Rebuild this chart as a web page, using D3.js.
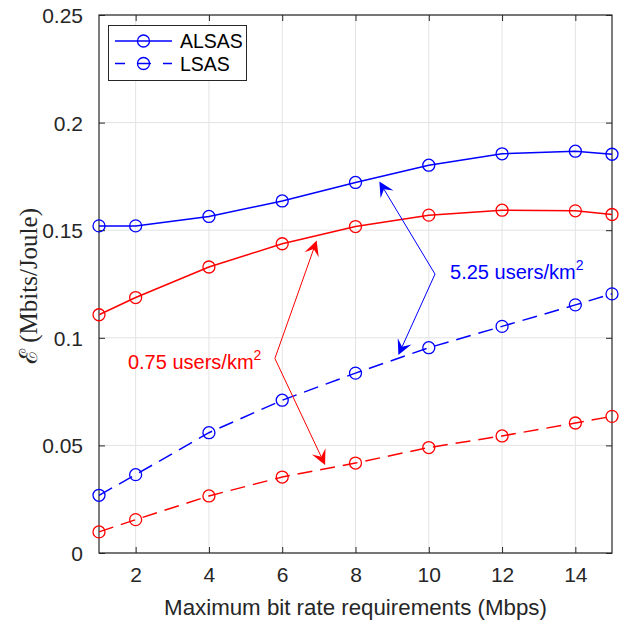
<!DOCTYPE html>
<html>
<head>
<meta charset="utf-8">
<script src="https://cdn.jsdelivr.net/npm/d3@7"></script>
<style>
  html, body { margin: 0; padding: 0; background: #fff; }
  svg { display: block; }
  text { font-family: "Liberation Sans", Arial, Helvetica, sans-serif; fill: #262626; }
</style>
</head>
<body>
<svg id="chart" width="621" height="620"></svg>
<script>
// ── Data ─────────────────────────────────────────────
const bitRates   = [1, 2, 4, 6, 8, 10, 12, 14, 15];
const alsasHigh  = [0.152, 0.152, 0.1564, 0.1636, 0.1722, 0.1802, 0.1855, 0.1867, 0.1853];
const alsasLow   = [0.1107, 0.1187, 0.1329, 0.1437, 0.1517, 0.1570, 0.1593, 0.1590, 0.1573];
const lsasHigh   = [0.0268, 0.0364, 0.0559, 0.0710, 0.0836, 0.0954, 0.1053, 0.1153, 0.1204];
const lsasLow    = [0.0098, 0.0155, 0.0265, 0.0353, 0.0418, 0.0490, 0.0544, 0.0604, 0.0635];
const xTicks     = [2, 4, 6, 8, 10, 12, 14];
const yTicks     = [0, 0.05, 0.1, 0.15, 0.2, 0.25];
const legendNames = ['ALSAS', 'LSAS'];

const series = [
  { values: alsasHigh, color: '#0000ff', dashed: false },
  { values: alsasLow,  color: '#ff0000', dashed: false },
  { values: lsasHigh,  color: '#0000ff', dashed: true  },
  { values: lsasLow,   color: '#ff0000', dashed: true  },
];

// ── Layout ───────────────────────────────────────────
const svg = d3.select('#chart');
const m = { left: 99, right: 612, top: 15, bottom: 553 };
const axisColor = '#262626';
const gridColor = '#e3e3e3';
const dash = '15,8';

const x = d3.scaleLinear().domain([1, 15]).range([m.left, m.right]);
const y = d3.scaleLinear().domain([0, 0.25]).range([m.bottom, m.top]);

// Grid
const grid = svg.append('g').attr('class', 'grid');
grid.selectAll('line.gx').data(xTicks).join('line')
  .attr('x1', d => x(d)).attr('x2', d => x(d))
  .attr('y1', m.top).attr('y2', m.bottom)
  .attr('stroke', gridColor).attr('stroke-width', 1);
grid.selectAll('line.gy').data(yTicks).join('line')
  .attr('x1', m.left).attr('x2', m.right)
  .attr('y1', d => y(d)).attr('y2', d => y(d))
  .attr('stroke', gridColor).attr('stroke-width', 1);

// Axes (inside ticks, box on)
const tick = 6;
const xb = svg.append('g').attr('transform', `translate(0,${m.bottom})`)
  .call(d3.axisBottom(x).tickValues(xTicks).tickSizeInner(-tick).tickSizeOuter(0).tickPadding(14));
const xt = svg.append('g').attr('transform', `translate(0,${m.top})`)
  .call(d3.axisTop(x).tickValues(xTicks).tickSizeInner(-tick).tickSizeOuter(0).tickFormat(''));
const yl = svg.append('g').attr('transform', `translate(${m.left},0)`)
  .call(d3.axisLeft(y).tickValues(yTicks).tickSizeInner(-tick).tickSizeOuter(0).tickPadding(16)
    .tickFormat(d => d === 0 ? '0' : String(+d.toFixed(2))));
const yr = svg.append('g').attr('transform', `translate(${m.right},0)`)
  .call(d3.axisRight(y).tickValues(yTicks).tickSizeInner(-tick).tickSizeOuter(0).tickFormat(''));

[xb, xt, yl, yr].forEach(g => {
  g.select('.domain').remove();
  g.selectAll('line').attr('stroke', axisColor).attr('stroke-width', 1);
  g.selectAll('text').attr('fill', axisColor).attr('font-size', 21)
    .attr('font-family', '"Liberation Sans", Arial, sans-serif');
});
xb.selectAll('text').attr('dy', '0.71em');
yl.selectAll('text').attr('dy', '0.36em');

svg.append('rect')
  .attr('x', m.left).attr('y', m.top)
  .attr('width', m.right - m.left).attr('height', m.bottom - m.top)
  .attr('fill', 'none').attr('stroke', axisColor).attr('stroke-width', 1.2);

// Axis labels
svg.append('text')
  .attr('x', (m.left + m.right) / 2).attr('y', 615)
  .attr('text-anchor', 'middle').attr('font-size', 22.3)
  .text('Maximum bit rate requirements (Mbps)');

svg.append('text')
  .attr('transform', `translate(37,${(m.top + m.bottom) / 2 + 2}) rotate(-90)`)
  .attr('text-anchor', 'middle')
  .style('font-family', '"Liberation Serif", "DejaVu Serif", serif')
  .attr('font-size', 25)
  .text('ℰ (Mbits/Joule)');

// ── Series ───────────────────────────────────────────
const line = d3.line().x((d, i) => x(bitRates[i])).y(d => y(d));
const plot = svg.append('g').attr('class', 'series');

series.forEach(s => {
  plot.append('path')
    .datum(s.values)
    .attr('d', line)
    .attr('fill', 'none')
    .attr('stroke', s.color)
    .attr('stroke-width', 1.5)
    .attr('stroke-dasharray', s.dashed ? dash : null);

  plot.selectAll(null).data(s.values).join('circle')
    .attr('cx', (d, i) => x(bitRates[i]))
    .attr('cy', d => y(d))
    .attr('r', 6)
    .attr('fill', 'none')
    .attr('stroke', s.color)
    .attr('stroke-width', 1.3);
});

// ── Annotations ──────────────────────────────────────
const drawArrow = (g, from, to, color) => {
  const [x0, y0] = [x(from[0]), y(from[1])];
  const [x1, y1] = [x(to[0]), y(to[1])];
  const ang = Math.atan2(y1 - y0, x1 - x0);
  const L = 15, W = 7.5, notch = 9;
  g.append('line')
    .attr('x1', x0).attr('y1', y0)
    .attr('x2', x1 - Math.cos(ang) * notch).attr('y2', y1 - Math.sin(ang) * notch)
    .attr('stroke', color).attr('stroke-width', 1);
  const pts = [[0, 0], [-L, W], [-notch, 0], [-L, -W]]
    .map(([u, v]) => [x1 + u * Math.cos(ang) - v * Math.sin(ang), y1 + u * Math.sin(ang) + v * Math.cos(ang)]);
  g.append('polygon').attr('points', pts.map(p => p.join(',')).join(' ')).attr('fill', color);
};

const ann = svg.append('g').attr('class', 'annotations');

// 0.75 users/km²
drawArrow(ann, [5.80, 0.0904], [6.94, 0.1452], '#ff0000');
drawArrow(ann, [5.80, 0.0904], [7.17, 0.0409], '#ff0000');
const tRed = ann.append('text')
  .attr('x', x(1.79)).attr('y', y(0.0855))
  .attr('font-size', 20).style('fill', '#ff0000');
tRed.append('tspan').text('0.75 users/km');
tRed.append('tspan').attr('font-size', 14).attr('dy', -9).text('2');

// 5.25 users/km²
drawArrow(ann, [10.17, 0.1296], [8.65, 0.1726], '#0000ff');
drawArrow(ann, [10.17, 0.1296], [9.17, 0.0920], '#0000ff');
const tBlue = ann.append('text')
  .attr('x', x(10.58)).attr('y', y(0.1273))
  .attr('font-size', 20).style('fill', '#0000ff');
tBlue.append('tspan').text('5.25 users/km');
tBlue.append('tspan').attr('font-size', 14).attr('dy', -9).text('2');

// ── Legend ───────────────────────────────────────────
const lg = svg.append('g').attr('class', 'legend');
lg.append('rect')
  .attr('x', 108.5).attr('y', 25.5).attr('width', 138).attr('height', 55)
  .attr('fill', '#fff').attr('stroke', axisColor).attr('stroke-width', 1);

legendNames.forEach((name, i) => {
  const ly = 41 + i * 22.5;
  lg.append('line')
    .attr('x1', 115).attr('x2', 172).attr('y1', ly).attr('y2', ly)
    .attr('stroke', '#0000ff').attr('stroke-width', 1.5)
    .attr('stroke-dasharray', i === 1 ? '10,12,14,12,10' : null);
  lg.append('circle')
    .attr('cx', 143.5).attr('cy', ly).attr('r', 6)
    .attr('fill', 'none').attr('stroke', '#0000ff').attr('stroke-width', 1.3);
  lg.append('text')
    .attr('x', 180).attr('y', ly).attr('dy', '0.36em')
    .attr('font-size', 19.5).style('fill', '#000')
    .text(name);
});
</script>
</body>
</html>
